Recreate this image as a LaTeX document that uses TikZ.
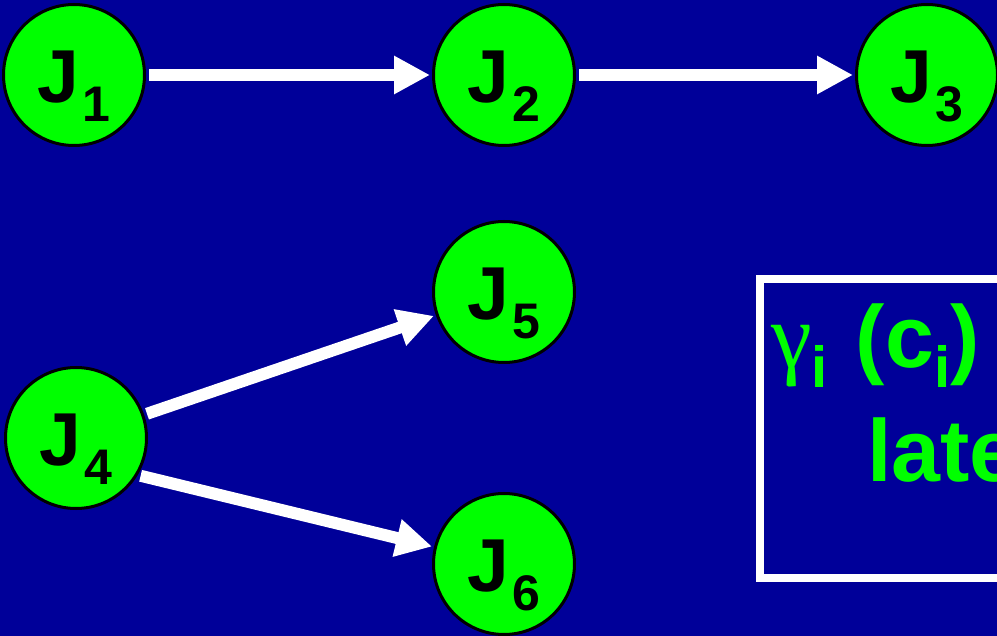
\documentclass[tikz,border=0pt]{standalone}
\usepackage{fontspec}
\setmainfont{Liberation Sans}
\newfontfamily\grkfont{Liberation Serif}
\usetikzlibrary{arrows.meta}
\definecolor{bgblue}{RGB}{0,0,153}
\definecolor{jgreen}{RGB}{0,255,0}
\newcommand\jlab[1]{\rule{0pt}{75pt}\fontsize{75}{75}\selectfont\bfseries J\kern3pt\raisebox{-19pt}{\fontsize{50}{50}\selectfont\bfseries #1}}
\newcommand\subi{\raisebox{-20pt}{\fontsize{58}{58}\selectfont\bfseries i}}
\begin{document}
\begin{tikzpicture}[x=1pt,y=-1pt,
  job/.style={circle, fill=jgreen, draw=black, line width=3pt, minimum size=141pt, inner sep=0pt, text=black},
  link/.style={draw=white, line width=12pt, -{Triangle[length=36pt,width=36pt]}, shorten <=3pt, shorten >=2pt},
  boxtext/.style={text=jgreen, font=\fontsize{88}{88}\selectfont\bfseries, anchor=base west, inner sep=0pt},
  frame/.style={draw=white, line width=8pt, anchor=north west, minimum width=260pt, minimum height=299pt, inner sep=0pt}]
\useasboundingbox (0,0) rectangle (997,636);
\clip (0,0) rectangle (997,636);
\fill[bgblue] (0,0) rectangle (997,636);
\node[job] (J1) at (74,75) {\jlab{1}};
\node[job] (J2) at (504,75) {\jlab{2}};
\node[job] (J3) at (927,75) {\jlab{3}};
\node[job] (J4) at (76,438) {\jlab{4}};
\node[job] (J5) at (504,292) {\jlab{5}};
\node[job] (J6) at (504,564) {\jlab{6}};
\draw[link] (J1) -- (J2);
\draw[link] (J2) -- (J3);
\draw[link] (J4) -- (J5);
\draw[link] (J4.-31) -- (J6);
\node[frame] (box) at (756,275) {};
\node[boxtext] (t1) at (771,368) {{\grkfont\mdseries\fontsize{92}{92}\selectfont γ}\subi\hspace{28pt}(c\subi)};
\node[boxtext] (t2) at (867,482) {late};
\end{tikzpicture}
\end{document}
